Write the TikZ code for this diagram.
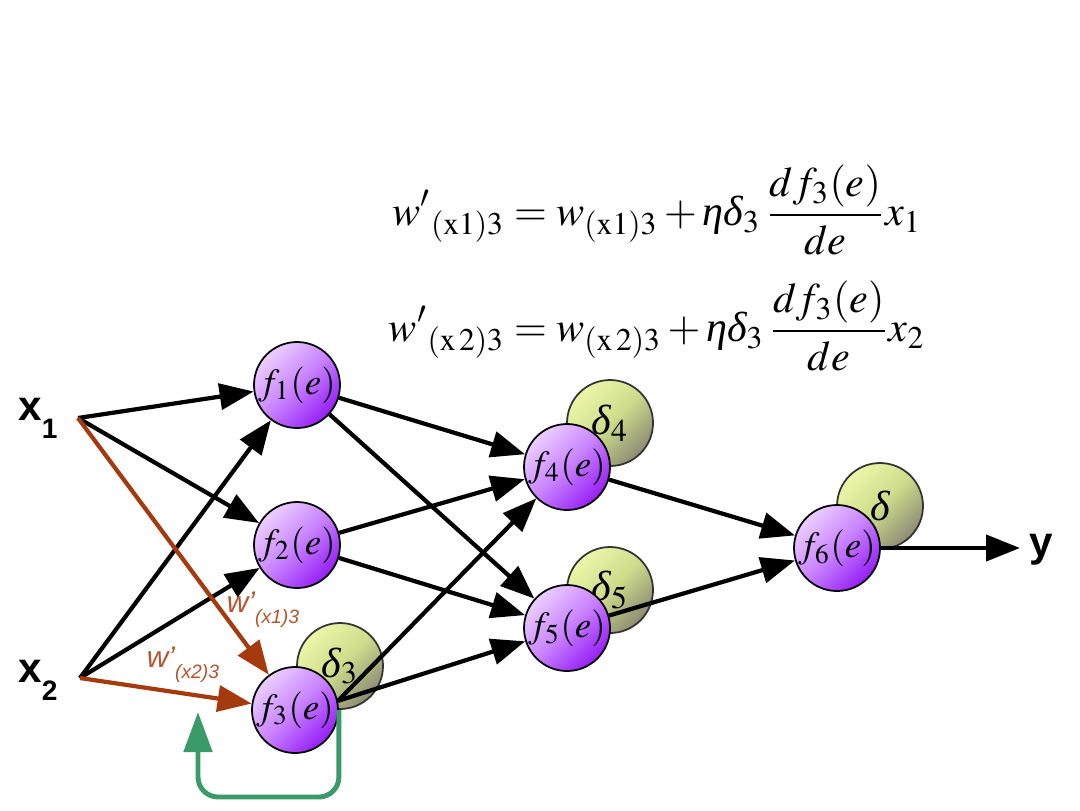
\documentclass[tikz,border=0pt]{standalone}
\usepackage{mathptmx}
\usepackage{fontspec}
\setmainfont{Liberation Serif}
\setsansfont{Liberation Sans}
\usetikzlibrary{arrows.meta}
\definecolor{flight}{RGB}{236,206,255}
\definecolor{fmid}{RGB}{200,130,255}
\definecolor{fdark}{RGB}{150,30,245}
\definecolor{dlight}{RGB}{236,246,170}
\definecolor{dmid}{RGB}{206,220,140}
\definecolor{ddark}{RGB}{140,140,115}
\definecolor{wbrown}{RGB}{164,58,14}
\definecolor{wtext}{RGB}{180,85,45}
\definecolor{fgreen}{RGB}{58,154,104}
\newcommand{\geta}{\mbox{\itshape η}}
\newcommand{\gdelta}{\mbox{\itshape δ}}
\begin{document}
\begin{tikzpicture}[x=1cm,y=1cm,
  fnode/.style={circle, draw=black, line width=0.5pt, minimum size=0.86cm, inner sep=0pt,
    top color=flight, bottom color=fdark, middle color=fmid, shading angle=45,
    font=\fontsize{10.5}{12}\selectfont},
  dnode/.style={circle, draw=black!80, line width=0.5pt, minimum size=0.86cm, inner sep=0pt,
    top color=dlight, bottom color=ddark, middle color=dmid, shading angle=45,
    font=\fontsize{12}{14}\selectfont},
  conn/.style={line width=1.2pt, -{Triangle[length=0.34cm,width=0.26cm]}},
  wconn/.style={conn, draw=wbrown, fill=wbrown},
  fbarrow/.style={line width=1.4pt, draw=fgreen, rounded corners=0.2cm,
    -{Triangle[length=0.4cm,width=0.28cm]}},
  inlabel/.style={font=\sffamily\bfseries\fontsize{12}{14}\selectfont, inner sep=0pt},
  wlabel/.style={text=wtext, font=\sffamily\itshape\fontsize{8.5}{10}\selectfont, inner sep=0pt},
  eqn/.style={font=\fontsize{12}{14}\selectfont, inner sep=0pt}]
\useasboundingbox (0,0) rectangle (10.8,8.1);

% equations
\node[eqn] (eq1) at (6.57,6.00) {$\displaystyle {w'}_{(\mathrm{x}1)3} = w_{(\mathrm{x}1)3} + \geta\gdelta_3\,\frac{df_3(e)}{de}x_1$};
\node[eqn] (eq2) at (6.57,4.84) {$\displaystyle {w'}_{(\mathrm{x}\,2)3} = w_{(\mathrm{x}\,2)3} + \geta\gdelta_3\,\frac{df_3(e)}{de}x_2$};

% delta circles (behind)
\node[dnode] (d3) at (3.40,1.44) {$\gdelta_3$};
\node[dnode] (d4) at (6.10,3.87) {$\gdelta_4$};
\node[dnode] (d5) at (6.10,2.20) {$\gdelta_5$};
\node[dnode] (d6) at (8.80,3.04) {$\gdelta$};

% neurons
\node[fnode] (f1) at (2.97,4.25) {$f_1(e)$};
\node[fnode] (f2) at (2.97,2.65) {$f_2(e)$};
\node[fnode] (f3) at (2.95,1.00) {$f_3(e)$};
\node[fnode] (f4) at (5.67,3.43) {$f_4(e)$};
\node[fnode] (f5) at (5.67,1.82) {$f_5(e)$};
\node[fnode] (f6) at (8.37,2.62) {$f_6(e)$};

% inputs / output
\coordinate (a1) at (0.78,3.92);
\coordinate (a2) at (0.80,1.32);
\node[inlabel] (x1) at (0.38,3.92) {x\raisebox{-0.8ex}{\fontsize{8}{9}\selectfont 1}};
\node[inlabel] (x2) at (0.38,1.30) {x\raisebox{-0.8ex}{\fontsize{8}{9}\selectfont 2}};
\coordinate (yend) at (10.20,2.62);
\node[inlabel] (y) at (10.41,2.60) {y};

% weight labels
\node[wlabel] (w1) at (2.63,2.00) {w'\raisebox{-0.7ex}{\fontsize{5.5}{6}\selectfont(x1)3}};
\node[wlabel] (w2) at (1.83,1.45) {w'\raisebox{-0.7ex}{\fontsize{5.5}{6}\selectfont(x2)3}};

% connections
\draw[conn] (a1) -- (f1);
\draw[conn] (a1) -- (f2);
\draw[conn] (a2) -- (f1);
\draw[conn] (a2) -- (f2);
\draw[wconn] (a1) -- (f3);
\draw[wconn] (a2) -- (f3);
\draw[conn] (f1) -- (f4);
\draw[conn] (f1) -- (f5);
\draw[conn] (f2) -- (f4);
\draw[conn] (f2) -- (f5);
\draw[conn] (f3.12) -- (f4);
\draw[conn] (f3.12) -- (f5);
\draw[conn] (f4) -- (f6);
\draw[conn] (f5) -- (f6);
\draw[conn] (f6) -- (yend);

% feedback
\coordinate (fbtip) at (1.98,0.98);
\draw[fbarrow] (f3.east) -- ++(0,-0.87) -| (fbtip);
\end{tikzpicture}
\end{document}
